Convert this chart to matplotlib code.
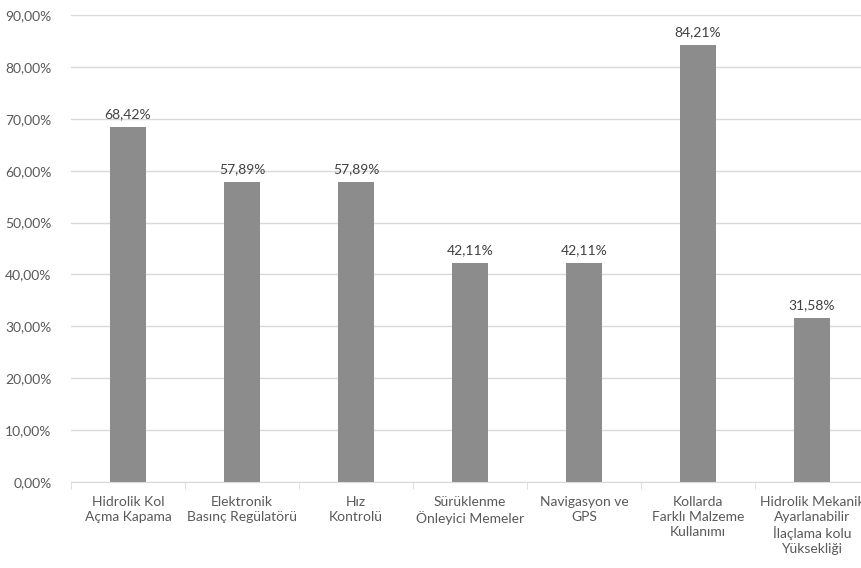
import matplotlib
matplotlib.use("Agg")
import matplotlib.pyplot as plt
from matplotlib.ticker import FuncFormatter, FixedLocator

categories = [
    "Hidrolik Kol\nAçma Kapama",
    "Elektronik\nBasınç Regülatörü",
    "Hız\nKontrolü",
    "Sürüklenme\nÖnleyici Memeler",
    "Navigasyon ve\nGPS",
    "Kollarda\nFarklı Malzeme\nKullanımı",
    "Hidrolik Mekanik\nAyarlanabilir\nİlaçlama kolu\nYüksekliği",
]
values = [68.42, 57.89, 57.89, 42.11, 42.11, 84.21, 31.58]
yticks = [0, 10, 20, 30, 40, 50, 60, 70, 80, 90]

plt.rcParams['font.family'] = ['Lato', 'DejaVu Sans']
text_color = '#595959'
grid_color = '#d9d9d9'
bar_color = '#8c8c8c'

fig = plt.figure(figsize=(8.61, 5.68), dpi=100)
# plot area runs past the right edge, as in the reference
ax = fig.add_axes([71 / 861, 86 / 568, 798 / 861, 467 / 568])

x = list(range(len(categories)))
ax.bar(x, values, width=0.31, color=bar_color, zorder=3)

for xi, v in zip(x, values):
    ax.annotate(f"{v:.2f}%".replace('.', ','), (xi, v), xytext=(0, 5),
                textcoords='offset points', ha='center', va='bottom',
                fontsize=10, color='#404040')

ax.set_xlim(-0.5, len(categories) - 0.5)
ax.set_ylim(0, 90)
ax.set_yticks(yticks)
ax.yaxis.set_major_formatter(FuncFormatter(lambda v, p: f"{v:.2f}%".replace('.', ',')))
ax.grid(axis='y', color=grid_color, linewidth=1, zorder=0)

ax.set_xticks(x)
ax.set_xticklabels(categories, fontsize=10, color=text_color, linespacing=1.3)
ax.xaxis.set_minor_locator(FixedLocator([i - 0.5 for i in range(len(categories) + 1)]))
ax.tick_params(axis='x', which='major', length=0, pad=10)
ax.tick_params(axis='x', which='minor', length=5, color=grid_color)
ax.tick_params(axis='y', length=0, labelsize=10, labelcolor=text_color, pad=14)

for side in ['top', 'right', 'left']:
    ax.spines[side].set_visible(False)
ax.spines['bottom'].set_color(grid_color)
ax.spines['bottom'].set_zorder(4)

fig.savefig('out.png', dpi=100)
